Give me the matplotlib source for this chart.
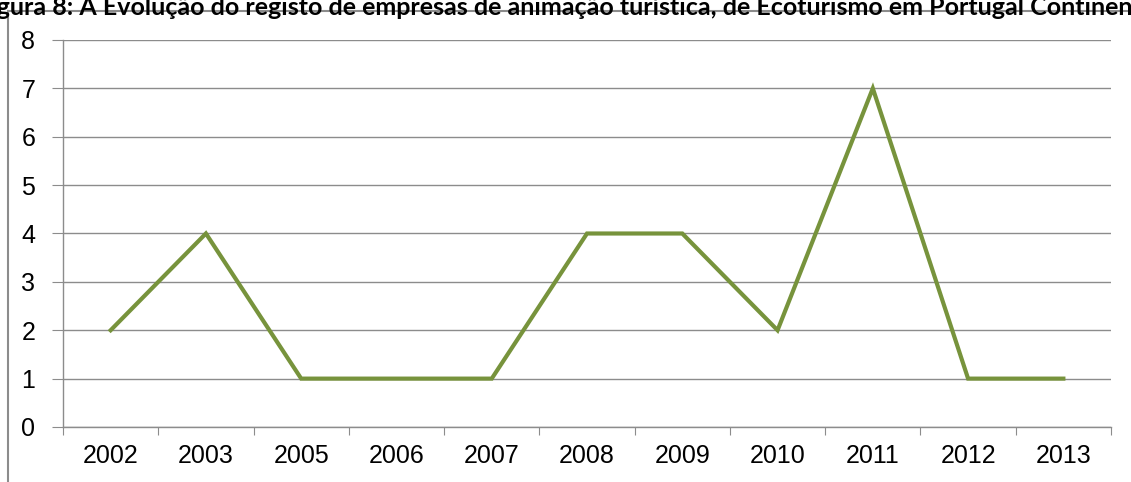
import matplotlib.pyplot as plt
from matplotlib.lines import Line2D

# data
years = ['2002', '2003', '2005', '2006', '2007', '2008', '2009', '2010', '2011', '2012', '2013']
registos = [2, 4, 1, 1, 1, 4, 4, 2, 7, 1, 1]
y_ticks = [0, 1, 2, 3, 4, 5, 6, 7, 8]

title = 'Figura 8: A Evolução do registo de empresas de animação turística, de Ecoturismo em Portugal Continental'

W, H = 1131, 482
fig = plt.figure(figsize=(W / 100, H / 100), dpi=100)

# frame of the embedded chart (left and top edges visible)
fig.add_artist(Line2D([8 / W, 8 / W], [0, 1 - 11 / H], color='#8c8c8c', lw=1.5))
fig.add_artist(Line2D([8 / W, 1], [1 - 11 / H, 1 - 11 / H], color='#8c8c8c', lw=1.5))

# title, clipped at the top of the image
fig.text(-24 / W, 1 - 15 / H, title, fontsize=18, fontweight='bold',
         family='Lato', va='baseline', ha='left')

ax = fig.add_axes([63 / W, 1 - 427 / H, (1111 - 63) / W, (427 - 40) / H])

x = list(range(len(years)))
ax.plot(x, registos, color='#77933C', lw=3, solid_joinstyle='miter')

ax.set_xlim(-0.5, len(years) - 0.5)
ax.set_ylim(0, 8)
ax.set_yticks(y_ticks)
ax.set_yticklabels([str(v) for v in y_ticks], fontsize=18, family='Liberation Sans')
ax.yaxis.grid(True, color='#8c8c8c', lw=1)
ax.set_axisbelow(True)

# category ticks on boundaries, labels centered
ax.set_xticks([i - 0.5 for i in range(len(years) + 1)])
ax.set_xticklabels([])
ax.set_xticks(x, minor=True)
ax.set_xticklabels(years, minor=True, fontsize=18, family='Liberation Sans')
ax.tick_params(axis='x', which='minor', length=0, pad=12)
ax.tick_params(axis='x', which='major', length=6, color='#8c8c8c', direction='out')
ax.tick_params(axis='y', length=8, color='#8c8c8c', pad=12)

for s in ['top', 'right']:
    ax.spines[s].set_visible(False)
for s in ['left', 'bottom']:
    ax.spines[s].set_color('#8c8c8c')
    ax.spines[s].set_linewidth(1)

fig.savefig('out.png', dpi=100)
